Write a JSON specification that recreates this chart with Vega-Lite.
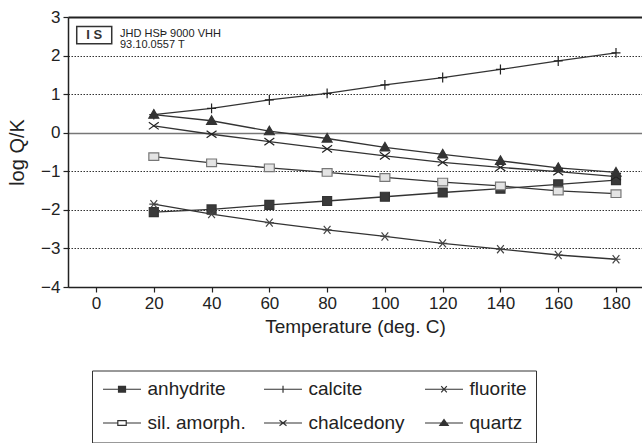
{
  "$schema": "https://vega.github.io/schema/vega-lite/v6.json",
  "width": 574,
  "height": 270,
  "padding": {"left": 7, "top": 8, "right": 0, "bottom": 0},
  "autosize": {"type": "pad"},
  "background": "white",
  "config": {
    "font": "Liberation Sans",
    "view": {"stroke": null},
    "axis": {"domainColor": "#222", "domainWidth": 1.5, "tickColor": "#222", "tickSize": 5, "tickWidth": 1.2, "labelFontSize": 17, "labelColor": "#222", "labelPadding": 3, "labelFlush": false, "labelOverlap": false, "titleFontWeight": "normal", "titleColor": "#222"}
  },
  "datasets": {
    "pts": [
      {"T": 20, "mineral": "anhydrite", "v": -2.06}, {"T": 40, "mineral": "anhydrite", "v": -1.99}, {"T": 60, "mineral": "anhydrite", "v": -1.87}, {"T": 80, "mineral": "anhydrite", "v": -1.77}, {"T": 100, "mineral": "anhydrite", "v": -1.66}, {"T": 120, "mineral": "anhydrite", "v": -1.55}, {"T": 140, "mineral": "anhydrite", "v": -1.45}, {"T": 160, "mineral": "anhydrite", "v": -1.34}, {"T": 180, "mineral": "anhydrite", "v": -1.23},
      {"T": 20, "mineral": "calcite", "v": 0.47}, {"T": 40, "mineral": "calcite", "v": 0.63}, {"T": 60, "mineral": "calcite", "v": 0.85}, {"T": 80, "mineral": "calcite", "v": 1.02}, {"T": 100, "mineral": "calcite", "v": 1.24}, {"T": 120, "mineral": "calcite", "v": 1.43}, {"T": 140, "mineral": "calcite", "v": 1.64}, {"T": 160, "mineral": "calcite", "v": 1.86}, {"T": 180, "mineral": "calcite", "v": 2.07},
      {"T": 20, "mineral": "fluorite", "v": -1.85}, {"T": 40, "mineral": "fluorite", "v": -2.11}, {"T": 60, "mineral": "fluorite", "v": -2.33}, {"T": 80, "mineral": "fluorite", "v": -2.52}, {"T": 100, "mineral": "fluorite", "v": -2.69}, {"T": 120, "mineral": "fluorite", "v": -2.87}, {"T": 140, "mineral": "fluorite", "v": -3.02}, {"T": 160, "mineral": "fluorite", "v": -3.17}, {"T": 180, "mineral": "fluorite", "v": -3.28},
      {"T": 20, "mineral": "sil. amorph.", "v": -0.62}, {"T": 40, "mineral": "sil. amorph.", "v": -0.78}, {"T": 60, "mineral": "sil. amorph.", "v": -0.91}, {"T": 80, "mineral": "sil. amorph.", "v": -1.03}, {"T": 100, "mineral": "sil. amorph.", "v": -1.16}, {"T": 120, "mineral": "sil. amorph.", "v": -1.28}, {"T": 140, "mineral": "sil. amorph.", "v": -1.38}, {"T": 160, "mineral": "sil. amorph.", "v": -1.51}, {"T": 180, "mineral": "sil. amorph.", "v": -1.58},
      {"T": 20, "mineral": "chalcedony", "v": 0.18}, {"T": 40, "mineral": "chalcedony", "v": -0.04}, {"T": 60, "mineral": "chalcedony", "v": -0.23}, {"T": 80, "mineral": "chalcedony", "v": -0.42}, {"T": 100, "mineral": "chalcedony", "v": -0.6}, {"T": 120, "mineral": "chalcedony", "v": -0.77}, {"T": 140, "mineral": "chalcedony", "v": -0.9}, {"T": 160, "mineral": "chalcedony", "v": -1.01}, {"T": 180, "mineral": "chalcedony", "v": -1.14},
      {"T": 20, "mineral": "quartz", "v": 0.47}, {"T": 40, "mineral": "quartz", "v": 0.31}, {"T": 60, "mineral": "quartz", "v": 0.04}, {"T": 80, "mineral": "quartz", "v": -0.15}, {"T": 100, "mineral": "quartz", "v": -0.38}, {"T": 120, "mineral": "quartz", "v": -0.56}, {"T": 140, "mineral": "quartz", "v": -0.73}, {"T": 160, "mineral": "quartz", "v": -0.91}, {"T": 180, "mineral": "quartz", "v": -1.03}
    ],
    "logo": [{"label": "I S", "px": -0.62, "row": 2.53}],
    "stamp": [{"label": "JHD HSÞ 9000 VHH", "px": 8.3, "row": 2.57}, {"label": "93.10.0557 T", "px": 8.3, "row": 2.27}]
  },
  "encoding": {
    "x": {
      "field": "T", "type": "quantitative",
      "scale": {"domain": [-9.7, 189], "nice": false, "zero": false},
      "axis": {"title": "Temperature (deg. C)", "values": [0, 20, 40, 60, 80, 100, 120, 140, 160, 180], "tickCount": 10, "grid": false, "titleFontSize": 19, "titlePadding": 6}
    },
    "y": {
      "field": "v", "type": "quantitative",
      "scale": {"domain": [-4, 3], "nice": false, "zero": false},
      "axis": {
        "title": "log Q/K", "values": [-4, -3, -2, -1, 0, 1, 2, 3], "tickCount": 8, "grid": true,
        "gridDash": {"condition": {"test": "datum.value === 0 || datum.value === 3", "value": []}, "value": [1.5, 1.5]},
        "gridColor": {"condition": [{"test": "datum.value === 3", "value": "#222"}, {"test": "datum.value === 0", "value": "#777"}], "value": "#333"},
        "gridWidth": {"condition": [{"test": "datum.value === 3", "value": 2}, {"test": "datum.value === 0", "value": 1.6}], "value": 1},
        "titleFontSize": 20, "titlePadding": 13
      }
    }
  },
  "resolve": {"scale": {"shape": "independent", "fill": "independent", "stroke": "independent"}},
  "layer": [
    {
      "data": {"name": "pts"},
      "mark": {"type": "line", "stroke": "#333", "strokeWidth": 1.3},
      "encoding": {"detail": {"field": "mineral"}}
    },
    {
      "data": {"name": "pts"},
      "mark": {"type": "point", "size": 81, "strokeWidth": 1.2, "opacity": 1},
      "encoding": {
        "shape": {
          "field": "mineral", "type": "nominal",
          "scale": {"range": ["M-1,-1H1V1H-1Z", "M-1,0H1M0,-1.1V1.1", "M-1.1,-0.8L1.1,0.8M-1.1,0.8L1.1,-0.8", "M-1,0H1M-0.75,-0.9L0.75,0.9M-0.75,0.9L0.75,-0.9", "M0,-1.1L1.1,0.8H-1.1Z", "M-1.1,-0.85H1.1V0.85H-1.1Z"]},
          "legend": null
        },
        "fill": {
          "field": "mineral", "type": "nominal",
          "scale": {"range": ["#3a3a3a", "transparent", "transparent", "transparent", "#333333", "#e4e4e4"]},
          "legend": null
        },
        "stroke": {
          "field": "mineral", "type": "nominal",
          "scale": {"range": ["#333333", "#222222", "#222222", "#444444", "#333333", "#777777"]},
          "legend": null
        }
      }
    },
    {
      "data": {"name": "pts"},
      "transform": [{"filter": "datum.T < 0"}],
      "mark": {"type": "point", "filled": false, "opacity": 1, "strokeWidth": 1.2},
      "encoding": {
        "shape": {
          "field": "mineral", "type": "nominal",
          "scale": {
            "domain": ["anhydrite", "calcite", "fluorite", "sil. amorph.", "chalcedony", "quartz"],
            "range": [
              "M-2.14,0H2.29M4.29,0H8.71M2.29,-0.8H4.29V0.8H2.29Z",
              "M-2.14,0H8.71M3.29,-1V1",
              "M-2.14,0H8.71M2.49,-0.9L4.09,0.9M2.49,0.9L4.09,-0.9",
              "M-2.14,0H2.09M4.49,0H8.71M2.09,-0.7H4.49V0.7H2.09Z",
              "M-2.14,0H8.71M2.29,-0.8L4.29,0.8M2.29,0.8L4.29,-0.8",
              "M-2.14,0H8.71M3.29,-1L4.49,0.7H2.09Z"
            ]
          },
          "legend": {
            "title": null, "orient": "none", "legendX": 24, "legendY": 353.5,
            "direction": "horizontal", "columns": 3, "gridAlign": "all",
            "labelFont": "Liberation Sans", "labelFontSize": 19, "labelColor": "#222",
            "strokeColor": "#333", "padding": 9, "rowPadding": 14, "columnPadding": 15,
            "labelOffset": 27.5, "symbolSize": 49, "symbolStrokeWidth": 1.2
          }
        },
        "fill": {
          "field": "mineral", "type": "nominal",
          "scale": {"domain": ["anhydrite", "calcite", "fluorite", "sil. amorph.", "chalcedony", "quartz"], "range": ["#333333", "transparent", "transparent", "#ffffff", "transparent", "#333333"]}
        },
        "stroke": {
          "field": "mineral", "type": "nominal",
          "scale": {"domain": ["anhydrite", "calcite", "fluorite", "sil. amorph.", "chalcedony", "quartz"], "range": ["#333333", "#333333", "#333333", "#333333", "#333333", "#333333"]}
        }
      }
    },
    {
      "data": {"name": "logo"},
      "mark": {"type": "point", "shape": "M-1,-0.486H1V0.486H-1Z", "size": 1225, "fill": "white", "stroke": "#333", "strokeWidth": 1.5, "opacity": 1, "filled": false},
      "encoding": {
        "x": {"field": "px", "type": "quantitative"},
        "y": {"field": "row", "type": "quantitative"}
      }
    },
    {
      "data": {"name": "logo"},
      "mark": {"type": "text", "fontSize": 13, "fontWeight": "bold", "color": "#333", "align": "center", "baseline": "middle"},
      "encoding": {
        "x": {"field": "px", "type": "quantitative"},
        "y": {"field": "row", "type": "quantitative"},
        "text": {"field": "label"}
      }
    },
    {
      "data": {"name": "stamp"},
      "mark": {"type": "text", "fontSize": 11, "color": "#222", "align": "left", "baseline": "middle"},
      "encoding": {
        "x": {"field": "px", "type": "quantitative"},
        "y": {"field": "row", "type": "quantitative"},
        "text": {"field": "label"}
      }
    }
  ]
}
